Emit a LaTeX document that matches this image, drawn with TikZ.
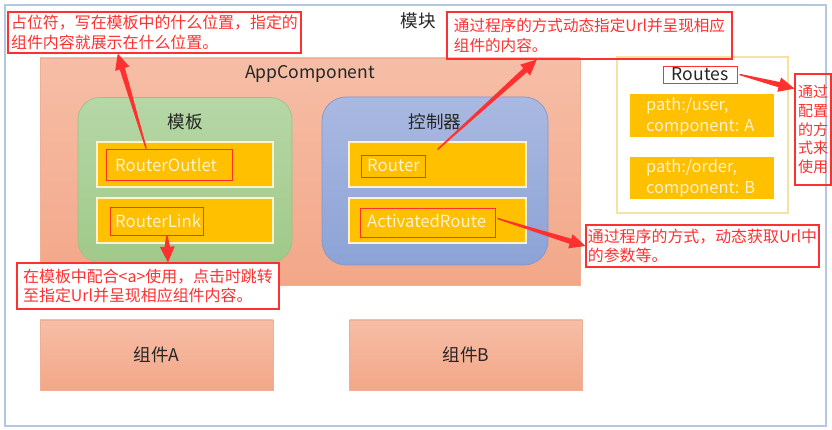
\documentclass[tikz,border=0pt]{standalone}
\usepackage{fontspec}
\setmainfont{Noto Sans CJK SC}
\usetikzlibrary{calc}
\definecolor{cred}{HTML}{FF3030}
\definecolor{tdark}{HTML}{262626}
\definecolor{myyellow}{HTML}{FFC000}
\definecolor{ypale}{HTML}{FFF2CC}
\definecolor{frameblue}{HTML}{B4C7E0}
\definecolor{salTop}{HTML}{F6BEA7}
\definecolor{salBot}{HTML}{F3A788}
\definecolor{salLine}{HTML}{EDB095}
\definecolor{grTop}{HTML}{B6D7A6}
\definecolor{grBot}{HTML}{A0C98A}
\definecolor{grLine}{HTML}{9DC088}
\definecolor{blTop}{HTML}{AAB9E1}
\definecolor{blBot}{HTML}{8CA3D6}
\definecolor{blLine}{HTML}{8397CB}
\definecolor{routesLine}{HTML}{F7E2A2}
\newdimen\pxu \pxu=0.03cm
\newcommand\taperarrow[2]{%
  \path (#1) coordinate (tas) (#2) coordinate (tae) ($(#2)!13.5pt!(#1)$) coordinate (tah);
  \fill[cred] ($(tas)!0.6pt!90:(tae)$) -- ($(tah)!2.3pt!90:(tae)$) -- ($(tah)!6.3pt!90:(tae)$)
    -- (tae) -- ($(tah)!6.3pt!-90:(tae)$) -- ($(tah)!2.3pt!-90:(tae)$) -- ($(tas)!0.6pt!-90:(tae)$) -- cycle;
}
\tikzset{
  callout/.style={draw=cred, line width=0.9pt, text=cred, align=left, inner sep=0pt,
    font=\fontsize{13.6}{16.8}\selectfont},
  ybox/.style={fill=myyellow, draw=ypale, line width=1.6\pxu, minimum width=176\pxu,
    minimum height=45\pxu, inner sep=0pt},
  rbox/.style={draw=cred, line width=0.8pt, inner sep=0pt},
  lbl/.style={font=\fontsize{14.3}{17}\selectfont, text=ypale, anchor=west, inner sep=0pt},
  ttl/.style={font=\fontsize{15}{18}\selectfont, text=tdark, inner sep=0pt},
  comp/.style={top color=salTop, bottom color=salBot, draw=salLine, line width=0.8pt,
    minimum width=233\pxu, minimum height=70\pxu, inner sep=0pt,
    font=\fontsize{15}{18}\selectfont, text=tdark},
}
\begin{document}
\begin{tikzpicture}[x=0.03cm, y=-0.03cm]
\useasboundingbox (0,0) rectangle (832,430);
\fill[white] (0,0) rectangle (832,430);
% outer frame
\draw[frameblue, line width=1.6pt] (5,5) rectangle (826,426);
\node[ttl] (title) at (418,21) {模块};

% AppComponent
\node[top color=salTop, bottom color=salBot, draw=salLine, line width=0.6pt,
  minimum width=540\pxu, minimum height=227\pxu, inner sep=0pt] (app) at (310,171.5) {};
\node[ttl, font=\fontsize{15}{18}\selectfont] (appl) at (310,74) {AppComponent};

% template (green)
\node[top color=grTop, bottom color=grBot, draw=grLine, line width=0.6pt, rounded corners=22\pxu,
  minimum width=214\pxu, minimum height=165\pxu, inner sep=0pt] (tpl) at (185,180) {};
\node[ttl] (tpll) at (185,122) {模板};
\node[ybox] (outlet) at (185,164.5) {};
\node[ybox] (link) at (185,220.5) {};
\node[lbl] (outlett) at (115,165) {RouterOutlet};
\node[lbl] (linkt) at (115,221) {RouterLink};
\node[rbox, minimum width=126\pxu, minimum height=31\pxu] (rbOut) at (169,164.5) {};
\node[rbox, minimum width=93\pxu, minimum height=28\pxu] (rbLink) at (156.5,221) {};

% controller (blue)
\node[top color=blTop, bottom color=blBot, draw=blLine, line width=0.6pt, rounded corners=24\pxu,
  minimum width=226\pxu, minimum height=168\pxu, inner sep=0pt] (ctrl) at (435,181) {};
\node[ttl] (ctrll) at (435,122) {控制器};
\node[ybox, minimum width=177\pxu] (router) at (437.5,164.5) {};
\node[ybox, minimum width=177\pxu] (act) at (437.5,220.5) {};
\node[lbl] (routert) at (367,165) {Router};
\node[lbl] (actt) at (367,221) {ActivatedRoute};
\node[rbox, minimum width=64\pxu, minimum height=22\pxu] (rbRouter) at (393,166) {};
\node[rbox, minimum width=135\pxu, minimum height=29\pxu] (rbAct) at (427.5,222.5) {};

% Routes
\node[draw=routesLine, line width=1.6\pxu, fill=white, minimum width=171\pxu,
  minimum height=156\pxu, inner sep=0pt] (routes) at (702.5,135) {};
\node[rbox, fill=white, minimum width=74\pxu, minimum height=17\pxu] (rbRoutes) at (700,74.5) {};
\node[ttl, font=\fontsize{15}{18}\selectfont] (routesl) at (700,74.5) {Routes};
\node[fill=myyellow, minimum width=144\pxu, minimum height=43\pxu, inner sep=0pt] (p1) at (702,115.5) {};
\node[fill=myyellow, minimum width=144\pxu, minimum height=42\pxu, inner sep=0pt] (p2) at (702,178) {};
\node[lbl, align=left, font=\fontsize{14}{17.8}\selectfont] (p1t) at (646,116.5) {path:/user,\\component: A};
\node[lbl, align=left, font=\fontsize{14}{17.8}\selectfont] (p2t) at (646,178.5) {path:/order,\\component: B};

% components
\node[comp] (compA) at (156.5,355) {组件A};
\node[comp] (compB) at (466,355) {组件B};

% callouts
\node[callout, minimum width=293\pxu, minimum height=41\pxu] (c1) at (154.5,32.5)
  {占位符，写在模板中的什么位置，指定的\\组件内容就展示在什么位置。};
\node[callout, minimum width=285\pxu, minimum height=47\pxu, font=\fontsize{13.3}{16.8}\selectfont] (c2) at (589.5,35.5)
  {通过程序的方式动态指定Url并呈现相应\\组件的内容。};
\node[callout, fill=white, minimum width=262\pxu, minimum height=46\pxu] (c3) at (148,286)
  {在模板中配合<a>使用，点击时跳转\\至指定Url并呈现相应组件内容。};
\node[callout, minimum width=233\pxu, minimum height=42\pxu] (c4) at (702.5,246)
  {通过程序的方式，动态获取Url中\\的参数等。};
\node[callout, minimum width=36\pxu, minimum height=111\pxu, font=\fontsize{12.8}{16}\selectfont] (c5) at (813,129.5)
  {通过\\配置\\的方\\式来\\使用};

% arrows
\coordinate (s1) at ($(rbOut.north west)!0.32!(rbOut.north east)$);
\coordinate (t1) at ($(c1.south west)!0.375!(c1.south east)$);
\coordinate (s2) at ($(rbRouter.north east)+(12,-5)$);
\coordinate (t2) at ($(c2.south west)!0.316!(c2.south east)$);
\coordinate (s3) at ($(rbLink.south west)!0.61!(rbLink.south east)$);
\coordinate (t3) at ($(c3.north west)!0.576!(c3.north east)$);
\coordinate (s4) at ($(rbAct.east)+(2,-4)$);
\coordinate (t4) at (c4.west);
\coordinate (s5) at ($(rbRoutes.east)+(2,0)$);
\coordinate (t5) at ($(c5.north west)!0.135!(c5.south west)$);
\taperarrow{s1}{t1}
\taperarrow{s2}{t2}
\taperarrow{s3}{t3}
\taperarrow{s4}{t4}
\taperarrow{s5}{t5}
\end{tikzpicture}
\end{document}
